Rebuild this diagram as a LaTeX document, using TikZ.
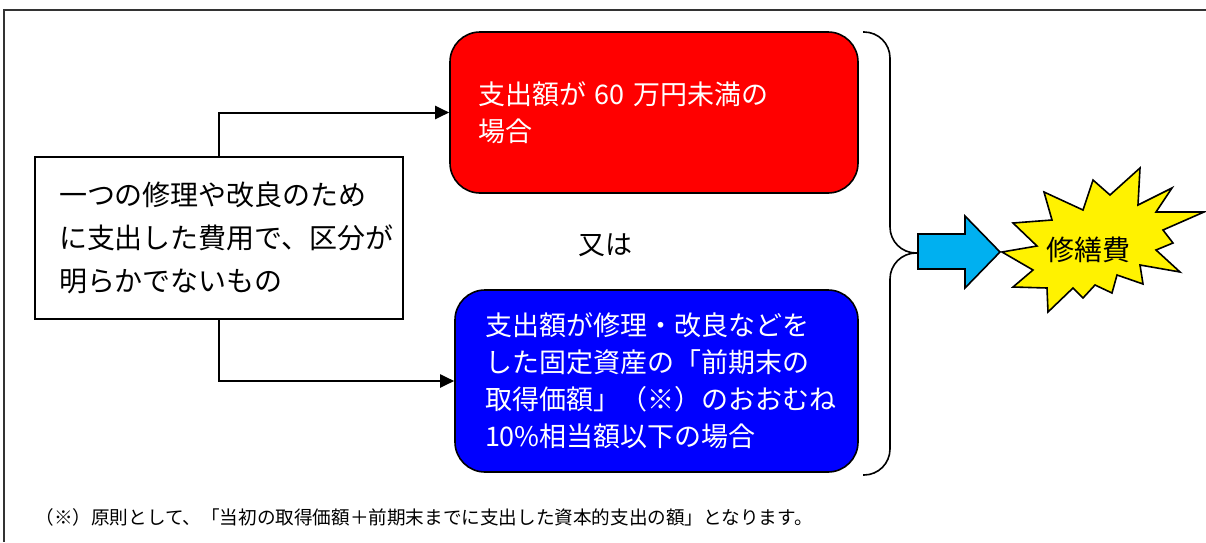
\documentclass[tikz,border=0pt]{standalone}
\usepackage{fontspec}
\newfontfamily\jp{Noto Sans CJK JP}
\usetikzlibrary{arrows.meta,positioning}
\definecolor{arrowblue}{RGB}{0,176,240}

\begin{document}
\begin{tikzpicture}[x=0.5pt, y=-0.5pt, thick, font=\jp,
		main/.style = {draw, line width=1pt, fill=white, minimum width=184pt, minimum height=81pt, text width=160pt, align=left, font=\jp\fontsize{14}{21.5}\selectfont},
		cond/.style = {draw, line width=0.8pt, rounded corners=15pt, text=white, align=left, font=\jp\fontsize{13.5}{18.5}\selectfont},
		letter/.style = {font=\jp\fontsize{13.5}{16}\selectfont},
		arr/.style = {-{Triangle[length=7pt,width=6.5pt]}, line width=1pt}]
	
	\useasboundingbox (0,0) rectangle (1206,542);
	\draw[line width=1pt, black!80] (1206,10) -- (4,10) -- (4,542);
	
	\node[main] (1) at (219,238) {一つの修理や改良のため\\に支出した費用で、区分が\\明らかでないもの};
	\node[cond, fill=red, minimum width=204pt, minimum height=80.5pt, text width=176pt] (2) at (654,112.5) {支出額が 60 万円未満の\\場合};
	\node[cond, fill=blue, minimum width=201.5pt, minimum height=91pt, text width=171.5pt] (3) at (656.5,381) {支出額が修理・改良などを\\した固定資産の「前期末の\\取得価額」（※）のおおむね\\10\%相当額以下の場合};
	
	\draw[arr] (1.north) |- (2.west);
	\draw[arr] (1.south) |- (3.west);
	
	\node[letter] (or) at (605,245) {又は};
	
	% brace
	\coordinate (tip) at (917,253);
	\draw[line width=0.8pt, rounded corners=13pt] (863,32) -- (890,32) -- (890,253) -- (tip);
	\draw[line width=0.8pt, rounded corners=13pt] (tip) -- (890,253) -- (890,475) -- (863,475);
	
	% arrow and burst
	\draw[line width=0.8pt, fill=arrowblue] (918,234) -- (965,234) -- (965,216) -- (1000,252) -- (965,288) -- (965,269) -- (918,269) -- cycle;
	\draw[line width=0.8pt, fill=yellow] (1002,252) -- (1037,246) -- (1013,223) -- (1052,220) -- (1044,192) -- (1083,210) -- (1093,180) -- (1110,195) -- (1140,168) -- (1138,205) -- (1172,188) -- (1156,212) -- (1204,212) -- (1163,230) -- (1173,243) -- (1156,250) -- (1180,272) -- (1140,265) -- (1143,284) -- (1117,275) -- (1112,293) -- (1095,285) -- (1083,298) -- (1073,288) -- (1048,312) -- (1047,288) -- (1013,287) -- (1033,270) -- cycle;
	\node[font=\jp\fontsize{14}{16}\selectfont] (cost) at (1088,250) {修繕費};
	
	\node[anchor=west, font=\jp\fontsize{9.3}{11}\selectfont] (note) at (28,517) {（※）原則として、「当初の取得価額＋前期末までに支出した資本的支出の額」となります。};
\end{tikzpicture}
\end{document}
